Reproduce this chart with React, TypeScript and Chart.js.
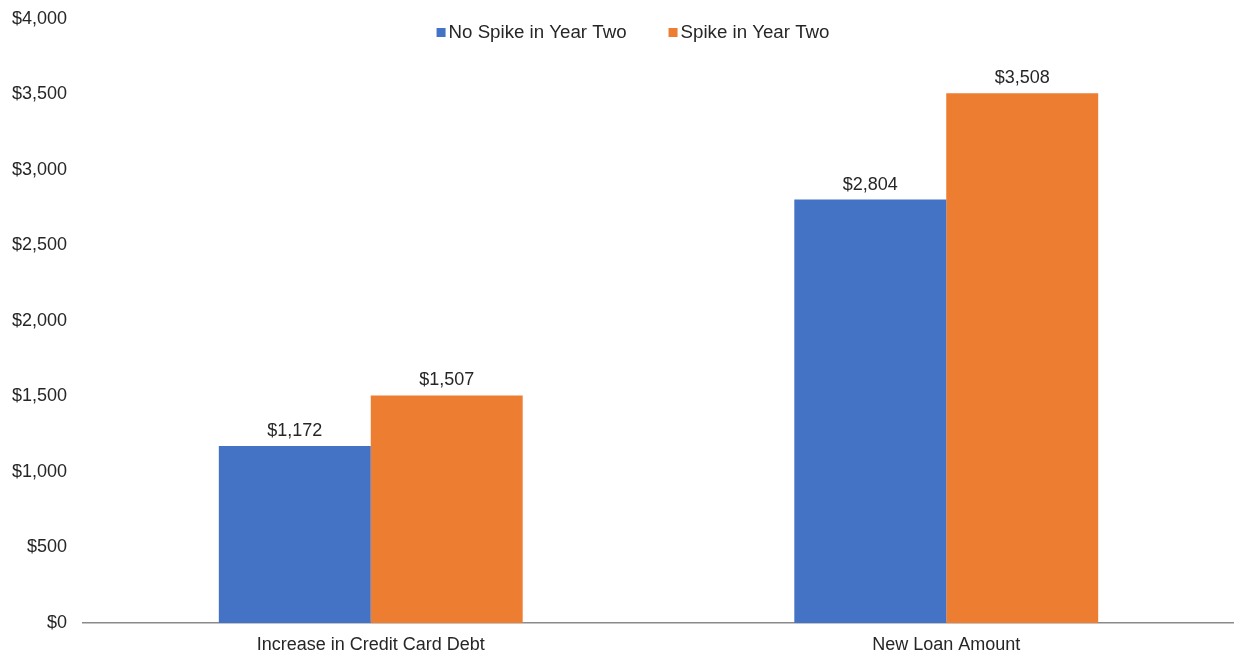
import React, { useEffect, useRef } from "react";
import { Chart, registerables } from "chart.js";

Chart.register(...registerables);

const categories = ["Increase in Credit Card Debt", "New Loan Amount"];
const seriesNames = ["No Spike in Year Two", "Spike in Year Two"];
const noSpike = [1172, 2804];
const spike = [1507, 3508];
const colors = ["#4472C4", "#ED7D31"];
const yTicks = [0, 500, 1000, 1500, 2000, 2500, 3000, 3500, 4000];

const FONT = "'Liberation Sans', Arial, sans-serif";
const TEXT = "#262626";

const fmt = (v: number) => "$" + v.toLocaleString("en-US");

const labelsPlugin = {
  id: "barLabels",
  afterDatasetsDraw(chart: any) {
    const ctx = chart.ctx;
    ctx.save();
    ctx.font = `18px ${FONT}`;
    ctx.fillStyle = TEXT;
    ctx.textAlign = "center";
    ctx.textBaseline = "alphabetic";
    chart.data.datasets.forEach((ds: any, i: number) => {
      const meta = chart.getDatasetMeta(i);
      meta.data.forEach((bar: any, j: number) => {
        ctx.fillText(fmt(ds.data[j]), bar.x, bar.y - 10);
      });
    });
    ctx.restore();
  },
};

const legendPlugin = {
  id: "customLegend",
  afterDraw(chart: any) {
    const ctx = chart.ctx;
    ctx.save();
    ctx.font = `18.7px ${FONT}`;
    ctx.textBaseline = "middle";
    ctx.textAlign = "left";
    const box = 9;
    const gapBox = 3;
    const gapItems = 42;
    const widths = seriesNames.map((n) => ctx.measureText(n).width);
    const total =
      widths.reduce((a, b) => a + b, 0) + seriesNames.length * (box + gapBox) + gapItems * (seriesNames.length - 1);
    let x = 633 - total / 2;
    const y = 32.5;
    seriesNames.forEach((n, i) => {
      ctx.fillStyle = colors[i];
      ctx.fillRect(x, y - box / 2, box, box);
      x += box + gapBox;
      ctx.fillStyle = TEXT;
      ctx.fillText(n, x, y);
      x += widths[i] + gapItems;
    });
    ctx.restore();
  },
};

export default function App() {
  const ref = useRef<HTMLCanvasElement>(null);
  useEffect(() => {
    if (!ref.current) return;
    const chart = new Chart(ref.current, {
      type: "bar",
      data: {
        labels: categories,
        datasets: [
          { label: seriesNames[0], data: noSpike, backgroundColor: colors[0] },
          { label: seriesNames[1], data: spike, backgroundColor: colors[1] },
        ],
      },
      options: {
        animation: false,
        responsive: false,
        maintainAspectRatio: false,
        layout: { padding: { top: 19, left: 10, right: 0, bottom: 0 } },
        datasets: { bar: { barPercentage: 1, categoryPercentage: 0.528 } },
        plugins: { legend: { display: false }, tooltip: { enabled: false } },
        scales: {
          x: {
            grid: { display: false, drawTicks: false },
            border: { display: true, color: "#8a8a8a", width: 1.5 },
            ticks: { color: TEXT, font: { family: FONT, size: 18 }, padding: 11 },
            afterFit: (axis: any) => {
              axis.height = 31;
              axis.paddingLeft = 0;
              axis.paddingRight = 0;
            },
          },
          y: {
            min: 0,
            max: 4000,
            afterBuildTicks: (axis: any) => {
              axis.ticks = yTicks.map((v) => ({ value: v }));
            },
            grid: { display: false, drawTicks: false },
            border: { display: false },
            ticks: {
              color: TEXT,
              font: { family: FONT, size: 18 },
              padding: 16,
              callback: (v: any) => fmt(Number(v)),
            },
            afterFit: (axis: any) => {
              axis.width = 73;
              axis.paddingTop = 0;
              axis.paddingBottom = 0;
            },
          },
        },
      },
      plugins: [labelsPlugin, legendPlugin],
    });
    return () => chart.destroy();
  }, []);
  return (
    <div style={{ position: "fixed", left: 0, top: 0, width: 1234, height: 654, background: "#fff" }}>
      <canvas ref={ref} width={1234} height={654} style={{ width: 1234, height: 654, display: "block" }} />
    </div>
  );
}
